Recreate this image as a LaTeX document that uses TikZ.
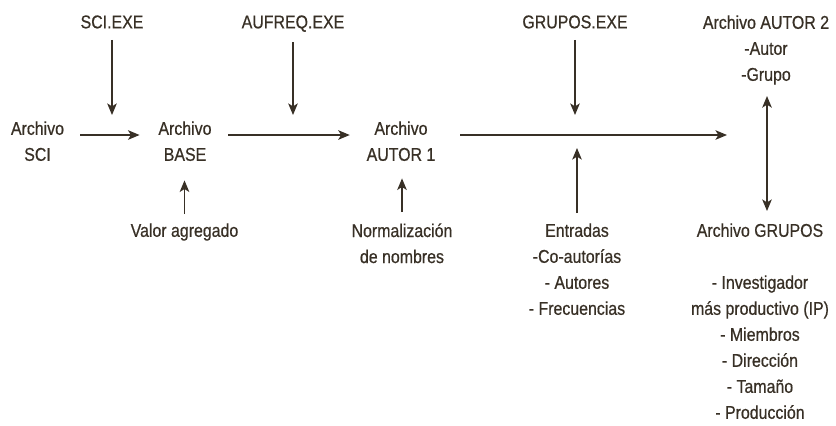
\documentclass[tikz,border=0pt]{standalone}
\usepackage{fontspec}
\setmainfont{Liberation Sans}[FakeStretch=0.86, FakeBold=0.6]
\usetikzlibrary{arrows.meta}

\definecolor{ink}{RGB}{56,48,38}

\tikzset{
  lbl/.style={align=center, inner sep=0pt, anchor=north, text=ink,
    font=\fontsize{9.25}{13}\selectfont},
  arr/.style={draw=ink, line width=0.65pt,
    -{Stealth[length=5.8pt, width=4.8pt, inset=1.5pt]}},
  dblarr/.style={arr, {Stealth[length=5.8pt, width=4.8pt, inset=1.5pt]}-{Stealth[length=5.8pt, width=4.8pt, inset=1.5pt]}},
}

\begin{document}
\begin{tikzpicture}[x=0.5pt, y=-0.5pt]
  \useasboundingbox (0,0) rectangle (836,425);

  % programs (top row)
  \node[lbl] (sciexe)    at (112,15) {SCI.EXE};
  \node[lbl] (aufreq)    at (293,15) {AUFREQ.EXE};
  \node[lbl] (gruposexe) at (575,15) {GRUPOS.EXE};
  \node[lbl] (autor2)    at (766,15) {Archivo AUTOR 2\\-Autor\\-Grupo};

  % files (main row)
  \node[lbl] (sci)    at (37.5,121) {Archivo\\SCI};
  \node[lbl] (base)   at (185,121)  {Archivo\\BASE};
  \node[lbl] (autor1) at (401,121)  {Archivo\\AUTOR 1};
  \coordinate (row)  at (0,135);    % helper
  \coordinate (pair) at (767,135);  % helper

  % inputs (bottom row)
  \node[lbl] (valor)    at (184.5,223) {Valor agregado};
  \node[lbl] (normal)   at (402,223)   {Normalización\\de nombres};
  \node[lbl] (entradas) at (577,223)   {Entradas\\-Co-autorías\\- Autores\\- Frecuencias};
  \node[lbl] (grupos)   at (760,223)   {Archivo GRUPOS\\ \mbox{}\\- Investigador\\más productivo (IP)\\- Miembros\\- Dirección\\- Tamaño\\- Producción};

  % main flow
  \draw[arr, shorten <=8pt, shorten >=9.25pt] (sci.east |- row) -- (base.west |- row);
  \draw[arr, shorten <=8.25pt, shorten >=8.25pt] (base.east |- row) -- (autor1.west |- row);
  \draw[arr, shorten <=12.25pt, shorten >=20pt] (autor1.east |- row) -- (pair);

  % programs acting on the flow
  \draw[arr, shorten <=5.5pt, shorten >=10pt] (sciexe.south) -- (sciexe.south |- row);
  \draw[arr, shorten <=5pt, shorten >=10pt] (aufreq.south) -- (aufreq.south |- row);
  \draw[arr, shorten <=5.5pt, shorten >=10pt] (gruposexe.south) -- (gruposexe.south |- row);

  % inputs acting on the files
  \draw[arr, shorten <=4.5pt, shorten >=9.5pt] (valor.north) -- (valor.north |- base.south);
  \draw[arr, shorten <=5.5pt, shorten >=8.5pt] (normal.north) -- (normal.north |- autor1.south);
  \draw[arr, shorten <=5pt, shorten >=6.5pt] (entradas.north) -- (entradas.north |- row);

  % autor 2 <-> grupos
  \draw[dblarr, shorten <=5.5pt, shorten >=6pt] (autor2.south -| pair) -- (grupos.north -| pair);
\end{tikzpicture}
\end{document}
